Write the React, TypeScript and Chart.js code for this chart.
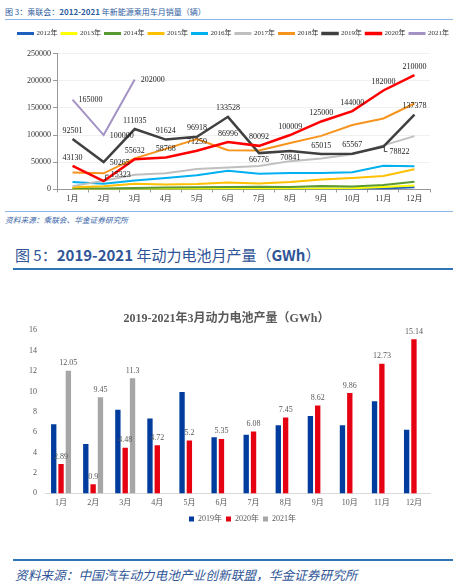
import React, { useEffect, useRef } from "react";
import { Chart, registerables, layouts } from "chart.js";

Chart.register(...registerables);

// ---------- Chart 1 data (乘联会 新能源乘用车月销量) ----------
const months = ["1月", "2月", "3月", "4月", "5月", "6月", "7月", "8月", "9月", "10月", "11月", "12月"];
const yearNames1 = ["2012年", "2013年", "2014年", "2015年", "2016年", "2017年", "2018年", "2019年", "2020年", "2021年"];
const s2012 = [500, 400, 500, 600, 600, 700, 800, 800, 1000, 1200, 1500, 4000];
const s2013 = [600, 500, 700, 800, 900, 1000, 1100, 1200, 1500, 2000, 4500, 7000];
const s2014 = [2500, 1800, 2800, 3500, 3800, 4500, 5000, 4200, 6200, 5500, 8000, 14000];
const s2015 = [4000, 6000, 10500, 9000, 10000, 12500, 11000, 13500, 18000, 21000, 24500, 37000];
const s2016 = [13500, 10500, 16500, 21000, 26000, 34500, 29000, 30000, 30000, 31500, 43500, 42500];
const s2017 = [6000, 16000, 27000, 29500, 37500, 40500, 43000, 52000, 57000, 64500, 81000, 98000];
const s2018 = [31000, 29500, 57000, 74500, 92500, 72000, 71500, 85500, 98500, 118500, 130500, 158000];
const s2019 = [92501, 50265, 111035, 91624, 96918, 133528, 66776, 70841, 65015, 65567, 78822, 137378];
const s2020 = [43130, 15323, 55632, 58768, 71259, 86996, 80092, 100009, 125000, 144000, 182000, 210000];
const s2021 = [165000, 100000, 202000, null, null, null, null, null, null, null, null, null];
const yTicks1 = [0, 50000, 100000, 150000, 200000, 250000];

// label placement codes (a = above, b = below, r = right, rd/ru = right with leader)
const place2019 = ["a", "r", "a", "a", "a", "a", "b", "b", "a", "a", "rd", "a"];
const place2020 = ["a", "ru", "a", "a", "a", "a", "a", "a", "a", "a", "a", "a"];
const place2021 = ["r", "r", "r"];

// ---------- Chart 2 data (动力电池月产量 GWh) ----------
const yearNames2 = ["2019年", "2020年", "2021年"];
const b2019 = [6.8, 4.85, 8.2, 7.35, 9.95, 5.5, 5.75, 6.7, 7.6, 6.7, 9.05, 6.25];
const b2020 = [2.89, 0.9, 4.48, 4.72, 5.2, 5.35, 6.08, 7.45, 8.62, 9.86, 12.73, 15.14];
const b2021 = [12.05, 9.45, 11.3, null, null, null, null, null, null, null, null, null];
const yTicks2 = [0, 2, 4, 6, 8, 10, 12, 14, 16];

const SERIF = "'Liberation Serif', 'Noto Sans CJK SC', serif";
const SANS = "'Noto Sans CJK SC', 'Noto Sans', sans-serif";

const valueLabels = {
  id: "valueLabels",
  afterDatasetsDraw(chart: any, _args: any, opts: any) {
    const ctx = chart.ctx;
    const items = (opts && opts.items) || [];
    ctx.save();
    ctx.font = `${opts.size || 8}px ${SERIF}`;
    ctx.fillStyle = opts.color || "#222";
    ctx.strokeStyle = opts.color || "#222";
    ctx.lineWidth = 0.8;
    items.forEach((it: any) => {
      const meta = chart.getDatasetMeta(it.dataset);
      const data = chart.data.datasets[it.dataset].data;
      meta.data.forEach((el: any, i: number) => {
        const v = data[i];
        if (v == null) return;
        const p = it.places ? it.places[i] || "a" : "a";
        const x = el.x;
        const y = el.y;
        const txt = String(v);
        ctx.textBaseline = "middle";
        if (p === "a") {
          ctx.textAlign = "center";
          ctx.fillText(txt, x, y - (it.above || 8.5));
        } else if (p === "b") {
          ctx.textAlign = "center";
          ctx.fillText(txt, x, y + 7);
        } else if (p === "r") {
          ctx.textAlign = "left";
          ctx.fillText(txt, x + 6, y + 0.5);
        } else if (p === "rd") {
          ctx.beginPath();
          ctx.moveTo(x + 1, y + 0.5);
          ctx.lineTo(x + 1, y + 5);
          ctx.lineTo(x + 4, y + 5);
          ctx.stroke();
          ctx.textAlign = "left";
          ctx.fillText(txt, x + 6, y + 5);
        } else if (p === "ru") {
          ctx.beginPath();
          ctx.moveTo(x + 2, y - 0.5);
          ctx.lineTo(x + 2, y - 6);
          ctx.lineTo(x + 5, y - 6);
          ctx.stroke();
          ctx.textAlign = "left";
          ctx.fillText(txt, x + 7, y - 6);
        }
      });
    });
    ctx.restore();
  },
};

// adds an empty layout box between the legend and the chart area
const legendGap = {
  id: "legendGap",
  beforeInit(chart: any, _args: any, opts: any) {
    const h = (opts && opts.height) || 0;
    const box: any = {
      position: "top",
      weight: 0,
      fullSize: true,
      options: {},
      width: 0,
      height: 0,
      left: 0,
      top: 0,
      right: 0,
      bottom: 0,
      isHorizontal() {
        return true;
      },
      update(maxWidth: number) {
        box.width = maxWidth;
        box.height = h;
      },
      draw() {},
    };
    layouts.addBox(chart, box);
  },
};

// shifts the legend horizontally
const legendShift = {
  id: "legendShift",
  afterLayout(chart: any, _args: any, opts: any) {
    const dx = (opts && opts.dx) || 0;
    if (chart.legend && dx) {
      chart.legend.left += dx;
      chart.legend.right += dx;
    }
  },
};

const spacerAxis = (w: number) => ({
  position: "right",
  display: true,
  grid: { display: false },
  border: { display: false },
  ticks: { display: false },
  afterFit: (s: any) => {
    s.width = w;
  },
});

function LineChart() {
  const ref = useRef<HTMLCanvasElement | null>(null);
  useEffect(() => {
    if (!ref.current) return;
    const series = [s2012, s2013, s2014, s2015, s2016, s2017, s2018, s2019, s2020, s2021];
    const colors = ["#1F5FBF", "#FFFF00", "#5B9A32", "#FFC000", "#00B0F0", "#BFBFBF", "#F7941D", "#404040", "#FF0000", "#A393C4"];
    const widths = [2, 2, 2, 2, 2, 2, 2, 2.5, 2.5, 2];
    const chart = new Chart(ref.current, {
      type: "line",
      data: {
        labels: months,
        datasets: series.map((d, i) => ({
          label: yearNames1[i],
          data: d,
          borderColor: colors[i],
          backgroundColor: colors[i],
          borderWidth: widths[i],
          pointRadius: 0,
          tension: 0,
          spanGaps: false,
          order: 10 - i,
          yAxisID: "y",
        })),
      },
      options: {
        animation: false,
        responsive: false,
        maintainAspectRatio: false,
        layout: { padding: { left: 14, right: 0, top: 0, bottom: 0 } },
        plugins: {
          legendGap: { height: 6.5 },
          legend: {
            position: "top",
            labels: {
              boxWidth: 15,
              boxHeight: 1,
              padding: 4,
              color: "#333",
              font: { size: 7, family: SERIF },
              sort: (a: any, b: any) => a.datasetIndex - b.datasetIndex,
            },
          },
          tooltip: { enabled: false },
          valueLabels: {
            size: 8,
            color: "#222",
            items: [
              { dataset: 7, places: place2019 },
              { dataset: 8, places: place2020 },
              { dataset: 9, places: place2021 },
            ],
          },
        } as any,
        scales: {
          x: {
            offset: true,
            grid: { display: true, drawOnChartArea: false, offset: true, tickLength: 3, tickColor: "#999" },
            border: { color: "#999" },
            ticks: { color: "#333", font: { size: 8, family: SERIF }, padding: 2, maxRotation: 0 },
          },
          y: {
            min: 0,
            max: 250000,
            afterBuildTicks: (s: any) => {
              s.ticks = yTicks1.map((v) => ({ value: v }));
            },
            afterFit: (s: any) => {
              s.width = 43;
            },
            grid: { color: "#F0F0F0", tickLength: 4, tickColor: "#999" },
            border: { color: "#999" },
            ticks: { color: "#333", font: { size: 8, family: SERIF }, padding: 2, callback: (v: any) => String(v) },
          },
          yR: spacerAxis(23),
        },
      },
      plugins: [valueLabels, legendGap],
    } as any);
    return () => chart.destroy();
  }, []);
  return (
    <canvas
      ref={ref}
      width={453}
      height={180}
      style={{ position: "absolute", left: 0, top: 26, width: 453, height: 180 }}
    />
  );
}

function BarChart() {
  const ref = useRef<HTMLCanvasElement | null>(null);
  useEffect(() => {
    if (!ref.current) return;
    const series = [b2019, b2020, b2021];
    const colors = ["#003C9D", "#E50012", "#A6A6A6"];
    const chart = new Chart(ref.current, {
      type: "bar",
      data: {
        labels: months,
        datasets: series.map((d, i) => ({
          label: yearNames2[i],
          data: d,
          backgroundColor: colors[i],
          borderWidth: 0,
          categoryPercentage: 0.685,
          barPercentage: 0.73,
          yAxisID: "y",
        })),
      },
      options: {
        animation: false,
        responsive: false,
        maintainAspectRatio: false,
        layout: { padding: { left: 0, right: 0, top: 0, bottom: 0 } },
        plugins: {
          title: {
            display: true,
            text: "2019-2021年3月动力电池产量（GWh）",
            color: "#595959",
            font: { size: 12, weight: "bold", family: SERIF },
            padding: { top: 12, bottom: 4 },
          },
          legend: {
            position: "bottom",
            labels: {
              boxWidth: 5,
              boxHeight: 5,
              padding: 4,
              color: "#595959",
              font: { size: 8, family: SERIF },
            },
          },
          legendShift: { dx: 16 },
          tooltip: { enabled: false },
          valueLabels: {
            size: 8,
            color: "#595959",
            items: [
              { dataset: 1, above: 7.5 },
              { dataset: 2, above: 7.5 },
            ],
          },
        } as any,
        scales: {
          x: {
            grid: { display: false, drawTicks: false },
            border: { color: "#D9D9D9" },
            afterFit: (s: any) => {
              s.height -= 2;
            },
            ticks: { color: "#595959", font: { size: 8, family: SERIF }, padding: 5, maxRotation: 0 },
          },
          y: {
            min: 0,
            max: 16,
            afterBuildTicks: (s: any) => {
              s.ticks = yTicks2.map((v) => ({ value: v }));
            },
            afterFit: (s: any) => {
              s.width = 45;
            },
            grid: { display: false, drawTicks: false },
            border: { display: false },
            ticks: { color: "#595959", font: { size: 8, family: SERIF }, padding: 8 },
          },
          yR: spacerAxis(23),
        },
      },
      plugins: [valueLabels, legendShift],
    } as any);
    return () => chart.destroy();
  }, []);
  return (
    <canvas
      ref={ref}
      width={453}
      height={233}
      style={{ position: "absolute", left: 0, top: 300, width: 453, height: 233 }}
    />
  );
}

export default function App() {
  const abs = (s: React.CSSProperties): React.CSSProperties => ({ position: "absolute", margin: 0, whiteSpace: "nowrap", ...s });
  return (
    <div style={{ position: "absolute", left: 0, top: 0, width: 453, height: 585, background: "#fff", overflow: "hidden" }}>
      <div style={abs({ left: 5, top: 7, fontSize: 8, lineHeight: "10px", color: "#2E5C9E", fontFamily: SANS })}>
        图 3：乘联会：<b style={{ fontWeight: 600 }}>2012-2021</b> 年新能源乘用车月销量（辆）
      </div>
      <div style={abs({ left: 5, top: 19, width: 448, height: 1, background: "#8DB4E2" })} />
      <LineChart />
      <div style={abs({ left: 5, top: 211, width: 448, height: 1, background: "#8DB4E2" })} />
      <div style={abs({ left: 5, top: 215, fontSize: 7.7, lineHeight: "9px", color: "#3A66A8", fontStyle: "italic", fontFamily: SANS })}>
        资料来源：乘联会、华金证券研究所
      </div>

      <div style={abs({ left: 15, top: 246, fontSize: 15, lineHeight: "18px", color: "#2F5597", fontFamily: SANS })}>
        图 5：<span style={{ fontWeight: 600 }}>2019-2021</span> 年动力电池月产量（<span style={{ fontWeight: 600 }}>GWh</span>）
      </div>
      <div style={abs({ left: 13, top: 268, width: 440, height: 2, background: "#2E75B6" })} />
      <BarChart />
      <div style={abs({ left: 13, top: 559, width: 440, height: 2, background: "#2E75B6" })} />
      <div style={abs({ left: 15, top: 567, fontSize: 12.7, lineHeight: "15px", color: "#2F5597", fontStyle: "italic", fontFamily: SANS })}>
        资料来源：中国汽车动力电池产业创新联盟，华金证券研究所
      </div>
    </div>
  );
}
